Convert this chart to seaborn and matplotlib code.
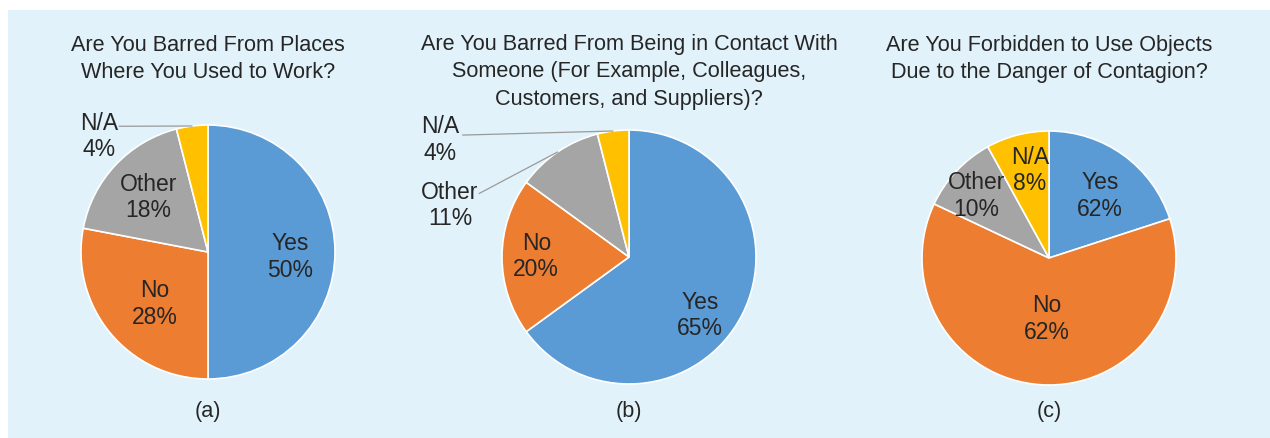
import numpy as np
import seaborn as sns
import matplotlib.pyplot as plt
from matplotlib.patches import Rectangle

sns.set_theme(style="white")
plt.rcParams['font.family'] = ['Liberation Sans', 'DejaVu Sans']

# datos
categorias = ["Yes", "No", "Other", "N/A"]
valores_a = [50, 28, 18, 4]
valores_b = [65, 20, 11, 4]
valores_c = [20, 62, 10, 8]
etiquetas_a = ["50%", "28%", "18%", "4%"]
etiquetas_b = ["65%", "20%", "11%", "4%"]
etiquetas_c = ["62%", "62%", "10%", "8%"]  # tal como aparece en la figura original
titulos = [
    "Are You Barred From Places\nWhere You Used to Work?",
    "Are You Barred From Being in Contact With\nSomeone (For Example, Colleagues,\nCustomers, and Suppliers)?",
    "Are You Forbidden to Use Objects\nDue to the Danger of Contagion?",
]
subtitulos = ["(a)", "(b)", "(c)"]

colores = sns.color_palette(["#5B9BD5", "#ED7D31", "#A5A5A5", "#FFC000"])
texto = "#262626"
W, H = 1270, 438

# posicion de las etiquetas (en radios del pastel) y lineas guia
pos_a = [(0.645, -0.04), (-0.42, -0.41), (-0.47, 0.43), (-0.855, 0.91)]
pos_b = [(0.56, -0.46), (-0.73, 0.005), (-1.41, 0.405), (-1.49, 0.92)]
pos_c = [(0.40, 0.49), (-0.02, -0.48), (-0.57, 0.49), (-0.15, 0.69)]
guias_a = {3: (-0.70, 0.99)}
guias_b = {2: (-1.18, 0.50), 3: (-1.31, 0.96)}
guias_c = {}

centros = [(208, 252), (629, 257), (1049, 258)]
titulo_y = [59, 72, 59]
radio = 127

fig = plt.figure(figsize=(W / 100, H / 100), dpi=100)
fig.patch.set_facecolor("white")
fig.add_artist(Rectangle((8 / W, 0), 1 - 8 / W, 1 - 10 / H, transform=fig.transFigure,
                         facecolor="#E1F2FA", edgecolor="none", zorder=0))

paneles = [
    (valores_a, etiquetas_a, pos_a, guias_a),
    (valores_b, etiquetas_b, pos_b, guias_b),
    (valores_c, etiquetas_c, pos_c, guias_c),
]

for i, (vals, etqs, pos, guias) in enumerate(paneles):
    cx, cy = centros[i]
    ax = fig.add_axes([(cx - radio) / W, (H - cy - radio) / H, 2 * radio / W, 2 * radio / H])
    ax.pie(vals, colors=colores, startangle=90, counterclock=False, radius=1,
           wedgeprops={'edgecolor': 'white', 'linewidth': 1.2})
    ax.set_xlim(-1, 1)
    ax.set_ylim(-1, 1)
    ax.set_aspect('auto')
    ax.axis('off')

    acum = np.cumsum([0] + list(vals)) / sum(vals)
    for j, cat in enumerate(categorias):
        x, y = pos[j]
        ax.text(x, y, f"{cat}\n{etqs[j]}", ha="center", va="center", fontsize=16.5,
                color=texto, linespacing=1.2, clip_on=False)
        if j in guias:
            medio = (acum[j] + acum[j + 1]) / 2 * 2 * np.pi
            ex, ey = np.sin(medio), np.cos(medio)
            sx, sy = guias[j]
            ax.plot([sx, ex], [sy, ey], color="#9A9A9A", linewidth=0.9, clip_on=False)

    fig.text(cx / W, 1 - titulo_y[i] / H, titulos[i], ha="center", va="center",
             fontsize=15.6, color=texto, linespacing=1.4)
    fig.text(cx / W, 1 - 412 / H, subtitulos[i], ha="center", va="center", fontsize=15.6,
             color=texto)

plt.savefig("out.png", dpi=100)
